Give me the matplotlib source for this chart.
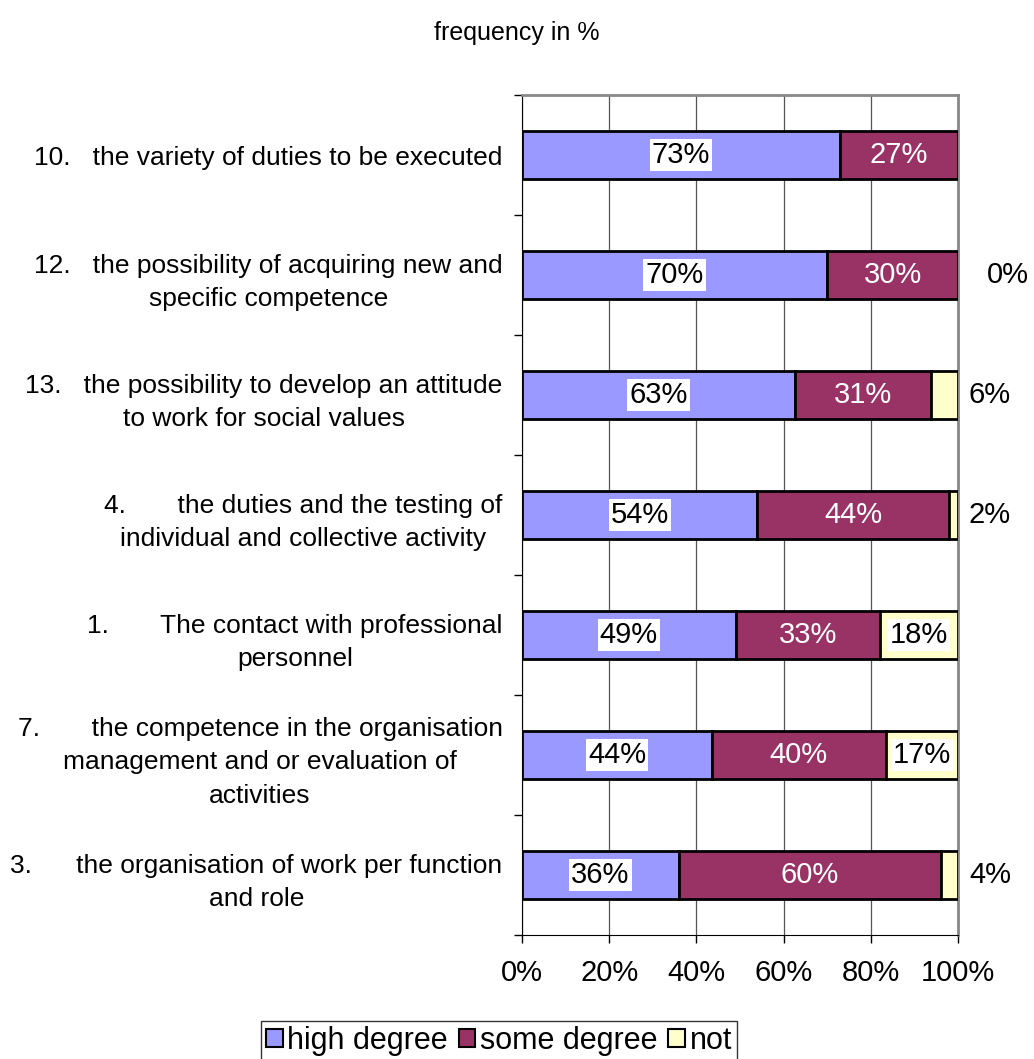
import matplotlib
matplotlib.use("Agg")
import matplotlib.pyplot as plt
import numpy as np

plt.rcParams['font.family'] = ['Liberation Sans', 'DejaVu Sans']

# items, listed top to bottom
items = [
    "10.   the variety of duties to be executed",
    "12.   the possibility of acquiring new and\nspecific competence",
    "13.   the possibility to develop an attitude\nto work for social values",
    "4.       the duties and the testing of\nindividual and collective activity",
    "1.       The contact with professional\npersonnel",
    "7.       the competence in the organisation\nmanagement and or evaluation of\nactivities",
    "3.      the organisation of work per function\nand role",
]
high_degree = [73.0, 70.0, 62.6, 54.0, 49.0, 43.6, 36.0]
some_degree = [27.0, 30.0, 31.2, 44.0, 33.0, 39.8, 60.0]
not_at_all = [0.0, 0.0, 6.2, 2.0, 18.0, 16.6, 4.0]
show_not_label = [False, True, True, True, True, True, True]

series_names = ["high degree", "some degree", "not"]
colors = ["#9999FF", "#993366", "#FFFFCC"]

fig = plt.figure(figsize=(10.34, 10.59), dpi=100)
ax = fig.add_axes([522 / 1034, 1 - 935 / 1059, 436 / 1034, 840 / 1059])

n = len(items)
ypos = np.arange(n)[::-1]
bar_h = 0.4
val_fs = 21

left = np.zeros(n)
for vals, col, name in zip([high_degree, some_degree, not_at_all], colors, series_names):
    ax.barh(ypos, vals, left=left, height=bar_h, color=col, edgecolor="black",
            linewidth=2, label=name, zorder=3)
    left = left + np.array(vals)

# value labels
for i in range(n):
    y = ypos[i]
    ax.text(high_degree[i] / 2, y, "%.0f%%" % high_degree[i], ha="center", va="center",
            fontsize=val_fs, color="black", zorder=5,
            bbox=dict(facecolor="white", edgecolor="none", pad=1.5))
    ax.text(high_degree[i] + some_degree[i] / 2, y, "%.0f%%" % some_degree[i],
            ha="center", va="center", fontsize=val_fs, color="white", zorder=5)
    if not show_not_label[i]:
        continue
    v = not_at_all[i]
    start = high_degree[i] + some_degree[i]
    if v >= 10:
        ax.text(start + v / 2, y, "%.0f%%" % v, ha="center", va="center", fontsize=val_fs,
                color="black", zorder=5,
                bbox=dict(facecolor="white", edgecolor="none", pad=1.5))
    else:
        off = 36 if v == 0 else 23
        ax.annotate("%.0f%%" % v, xy=(100, y), xytext=(off, 0), textcoords="offset points",
                    ha="center", va="center", fontsize=val_fs, color="black",
                    annotation_clip=False)

ax.set_xlim(0, 100)
ax.set_ylim(-0.5, n - 0.5)
ax.set_xticks(np.arange(0, 101, 20))
ax.set_xticklabels(["%d%%" % t for t in range(0, 101, 20)], fontsize=21)
ax.tick_params(axis="x", direction="out", length=6, width=1, pad=11)

ax.set_yticks(ypos)
ax.set_yticklabels(items, fontsize=19, multialignment="center", linespacing=1.5)
ax.set_yticks(np.arange(-0.5, n, 1), minor=True)
ax.tick_params(axis="y", which="major", length=0, pad=14)
ax.tick_params(axis="y", which="minor", direction="out", length=6, width=1)

ax.grid(axis="x", color="#555555", linewidth=0.9, zorder=0)
ax.set_axisbelow(True)
for s in ["top", "right"]:
    ax.spines[s].set_color("#888888")
    ax.spines[s].set_linewidth(2)
ax.spines["left"].set_color("black")
ax.spines["bottom"].set_color("black")

fig.text(0.5, 1 - 33 / 1059, "frequency in %", ha="center", va="center", fontsize=18)

leg = fig.legend(loc="upper center", bbox_to_anchor=(499 / 1034, 1 - 1021 / 1059), ncol=3,
                 fontsize=22, frameon=True, fancybox=False, handlelength=0.55,
                 handleheight=0.55, handletextpad=0.15, columnspacing=0.35,
                 borderpad=0.15, borderaxespad=0)
leg.get_frame().set_edgecolor("black")
leg.get_frame().set_linewidth(1)
for h in leg.legend_handles:
    h.set_linewidth(1.5)

fig.savefig("out.png", dpi=100)
